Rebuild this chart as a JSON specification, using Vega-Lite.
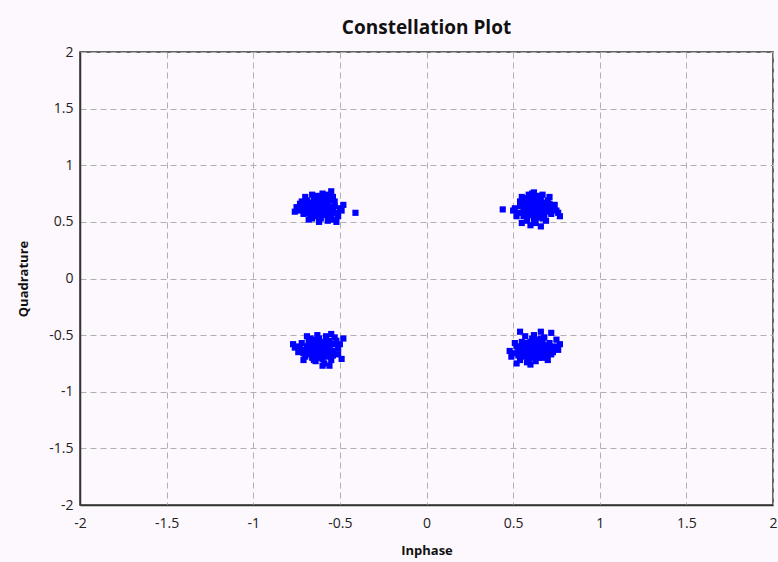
{
  "$schema": "https://vega.github.io/schema/vega-lite/v6.json",
  "autosize": "none",
  "width": 693,
  "height": 453,
  "padding": {"left": 80, "top": 52, "right": 5, "bottom": 57},
  "background": "#fdf8fd",
  "title": {"text": "Constellation Plot", "fontSize": 19, "font": "Open Sans", "fontWeight": "bold", "color": "#111111", "offset": 7, "anchor": "middle"},
  "config": {
    "view": {"stroke": "#333333", "strokeWidth": 1.5, "fill": "#fdf8fd"},
    "axis": {
      "labelFont": "Open Sans", "labelFontSize": 14, "labelColor": "#222222",
      "titleFont": "Open Sans", "titleFontSize": 13, "titleFontWeight": "bold", "titleColor": "#111111",
      "ticks": false, "domainColor": "#333333", "domainWidth": 1.5,
      "gridColor": "#b0b0b0", "gridDash": [6, 4], "gridWidth": 1
    }
  },
  "data": {"values": [
    {"x": -0.62, "y": 0.63}, {"x": -0.60, "y": 0.65}, {"x": -0.64, "y": 0.61}, {"x": -0.58, "y": 0.62}, {"x": -0.66, "y": 0.64}, {"x": -0.61, "y": 0.68}, {"x": -0.63, "y": 0.58}, {"x": -0.57, "y": 0.66}, {"x": -0.68, "y": 0.60}, {"x": -0.55, "y": 0.60},
    {"x": -0.70, "y": 0.66}, {"x": -0.65, "y": 0.70}, {"x": -0.59, "y": 0.71}, {"x": -0.53, "y": 0.64}, {"x": -0.67, "y": 0.56}, {"x": -0.60, "y": 0.56}, {"x": -0.72, "y": 0.62}, {"x": -0.56, "y": 0.69}, {"x": -0.63, "y": 0.73}, {"x": -0.69, "y": 0.69},
    {"x": -0.52, "y": 0.58}, {"x": -0.74, "y": 0.60}, {"x": -0.61, "y": 0.53}, {"x": -0.66, "y": 0.53}, {"x": -0.55, "y": 0.55}, {"x": -0.58, "y": 0.74}, {"x": -0.54, "y": 0.72}, {"x": -0.71, "y": 0.57}, {"x": -0.75, "y": 0.63}, {"x": -0.50, "y": 0.62},
    {"x": -0.64, "y": 0.66}, {"x": -0.59, "y": 0.59}, {"x": -0.62, "y": 0.70}, {"x": -0.57, "y": 0.56}, {"x": -0.67, "y": 0.67}, {"x": -0.65, "y": 0.58}, {"x": -0.61, "y": 0.61}, {"x": -0.63, "y": 0.64}, {"x": -0.60, "y": 0.62}, {"x": -0.56, "y": 0.63},
    {"x": -0.73, "y": 0.66}, {"x": -0.69, "y": 0.63}, {"x": -0.53, "y": 0.68}, {"x": -0.51, "y": 0.55}, {"x": -0.68, "y": 0.52}, {"x": -0.57, "y": 0.51}, {"x": -0.62, "y": 0.50}, {"x": -0.49, "y": 0.60}, {"x": -0.52, "y": 0.50}, {"x": -0.55, "y": 0.77},
    {"x": -0.66, "y": 0.74}, {"x": -0.70, "y": 0.72}, {"x": -0.76, "y": 0.59}, {"x": -0.41, "y": 0.58}, {"x": -0.58, "y": 0.68}, {"x": -0.64, "y": 0.55}, {"x": -0.71, "y": 0.64}, {"x": -0.60, "y": 0.75}, {"x": -0.54, "y": 0.52}, {"x": -0.48, "y": 0.65},
    {"x": -0.67, "y": 0.62}, {"x": -0.59, "y": 0.66}, {"x": -0.62, "y": 0.57}, {"x": -0.56, "y": 0.59}, {"x": -0.65, "y": 0.68}, {"x": -0.69, "y": 0.58}, {"x": -0.57, "y": 0.72}, {"x": -0.61, "y": 0.65}, {"x": -0.54, "y": 0.62}, {"x": -0.72, "y": 0.68},
    {"x": 0.63, "y": 0.62}, {"x": 0.61, "y": 0.65}, {"x": 0.65, "y": 0.60}, {"x": 0.59, "y": 0.63}, {"x": 0.67, "y": 0.64}, {"x": 0.62, "y": 0.68}, {"x": 0.64, "y": 0.57}, {"x": 0.58, "y": 0.66}, {"x": 0.69, "y": 0.60}, {"x": 0.56, "y": 0.60},
    {"x": 0.71, "y": 0.66}, {"x": 0.66, "y": 0.70}, {"x": 0.60, "y": 0.71}, {"x": 0.54, "y": 0.64}, {"x": 0.68, "y": 0.56}, {"x": 0.61, "y": 0.56}, {"x": 0.73, "y": 0.62}, {"x": 0.57, "y": 0.69}, {"x": 0.64, "y": 0.73}, {"x": 0.70, "y": 0.69},
    {"x": 0.53, "y": 0.58}, {"x": 0.75, "y": 0.60}, {"x": 0.62, "y": 0.52}, {"x": 0.67, "y": 0.53}, {"x": 0.56, "y": 0.55}, {"x": 0.59, "y": 0.74}, {"x": 0.55, "y": 0.72}, {"x": 0.72, "y": 0.57}, {"x": 0.76, "y": 0.58}, {"x": 0.51, "y": 0.62},
    {"x": 0.65, "y": 0.66}, {"x": 0.60, "y": 0.59}, {"x": 0.63, "y": 0.70}, {"x": 0.58, "y": 0.56}, {"x": 0.68, "y": 0.67}, {"x": 0.66, "y": 0.58}, {"x": 0.62, "y": 0.61}, {"x": 0.64, "y": 0.64}, {"x": 0.61, "y": 0.62}, {"x": 0.57, "y": 0.63},
    {"x": 0.74, "y": 0.65}, {"x": 0.70, "y": 0.63}, {"x": 0.54, "y": 0.68}, {"x": 0.52, "y": 0.55}, {"x": 0.69, "y": 0.51}, {"x": 0.58, "y": 0.51}, {"x": 0.63, "y": 0.49}, {"x": 0.50, "y": 0.60}, {"x": 0.55, "y": 0.49}, {"x": 0.62, "y": 0.76},
    {"x": 0.67, "y": 0.74}, {"x": 0.71, "y": 0.72}, {"x": 0.77, "y": 0.55}, {"x": 0.44, "y": 0.61}, {"x": 0.59, "y": 0.68}, {"x": 0.65, "y": 0.54}, {"x": 0.72, "y": 0.64}, {"x": 0.61, "y": 0.75}, {"x": 0.60, "y": 0.47}, {"x": 0.66, "y": 0.46},
    {"x": 0.60, "y": 0.67}, {"x": 0.66, "y": 0.62}, {"x": 0.57, "y": 0.59}, {"x": 0.69, "y": 0.66}, {"x": 0.62, "y": 0.55}, {"x": 0.71, "y": 0.59}, {"x": 0.55, "y": 0.66}, {"x": 0.63, "y": 0.66}, {"x": 0.67, "y": 0.57}, {"x": 0.58, "y": 0.71},
    {"x": -0.63, "y": -0.64}, {"x": -0.61, "y": -0.61}, {"x": -0.65, "y": -0.66}, {"x": -0.59, "y": -0.63}, {"x": -0.67, "y": -0.62}, {"x": -0.62, "y": -0.68}, {"x": -0.64, "y": -0.58}, {"x": -0.58, "y": -0.66}, {"x": -0.69, "y": -0.60}, {"x": -0.56, "y": -0.60},
    {"x": -0.71, "y": -0.66}, {"x": -0.66, "y": -0.70}, {"x": -0.60, "y": -0.71}, {"x": -0.54, "y": -0.64}, {"x": -0.68, "y": -0.56}, {"x": -0.61, "y": -0.56}, {"x": -0.73, "y": -0.62}, {"x": -0.57, "y": -0.69}, {"x": -0.64, "y": -0.73}, {"x": -0.70, "y": -0.69},
    {"x": -0.53, "y": -0.58}, {"x": -0.75, "y": -0.60}, {"x": -0.62, "y": -0.53}, {"x": -0.67, "y": -0.53}, {"x": -0.56, "y": -0.55}, {"x": -0.59, "y": -0.75}, {"x": -0.55, "y": -0.72}, {"x": -0.72, "y": -0.57}, {"x": -0.76, "y": -0.61}, {"x": -0.51, "y": -0.62},
    {"x": -0.65, "y": -0.62}, {"x": -0.60, "y": -0.59}, {"x": -0.63, "y": -0.70}, {"x": -0.58, "y": -0.56}, {"x": -0.68, "y": -0.67}, {"x": -0.66, "y": -0.58}, {"x": -0.62, "y": -0.61}, {"x": -0.64, "y": -0.64}, {"x": -0.61, "y": -0.66}, {"x": -0.57, "y": -0.63},
    {"x": -0.74, "y": -0.65}, {"x": -0.70, "y": -0.63}, {"x": -0.54, "y": -0.68}, {"x": -0.52, "y": -0.55}, {"x": -0.69, "y": -0.51}, {"x": -0.58, "y": -0.51}, {"x": -0.63, "y": -0.50}, {"x": -0.50, "y": -0.58}, {"x": -0.55, "y": -0.49}, {"x": -0.56, "y": -0.77},
    {"x": -0.53, "y": -0.52}, {"x": -0.71, "y": -0.72}, {"x": -0.77, "y": -0.58}, {"x": -0.48, "y": -0.53}, {"x": -0.59, "y": -0.68}, {"x": -0.65, "y": -0.54}, {"x": -0.72, "y": -0.64}, {"x": -0.60, "y": -0.77}, {"x": -0.51, "y": -0.67}, {"x": -0.49, "y": -0.71},
    {"x": -0.66, "y": -0.64}, {"x": -0.60, "y": -0.65}, {"x": -0.62, "y": -0.57}, {"x": -0.56, "y": -0.66}, {"x": -0.68, "y": -0.59}, {"x": -0.63, "y": -0.67}, {"x": -0.58, "y": -0.61}, {"x": -0.70, "y": -0.66}, {"x": -0.65, "y": -0.72}, {"x": -0.55, "y": -0.58},
    {"x": 0.62, "y": -0.64}, {"x": 0.60, "y": -0.61}, {"x": 0.64, "y": -0.66}, {"x": 0.58, "y": -0.63}, {"x": 0.66, "y": -0.62}, {"x": 0.61, "y": -0.68}, {"x": 0.63, "y": -0.58}, {"x": 0.57, "y": -0.66}, {"x": 0.68, "y": -0.60}, {"x": 0.55, "y": -0.60},
    {"x": 0.70, "y": -0.66}, {"x": 0.65, "y": -0.70}, {"x": 0.59, "y": -0.71}, {"x": 0.53, "y": -0.64}, {"x": 0.67, "y": -0.56}, {"x": 0.60, "y": -0.56}, {"x": 0.72, "y": -0.62}, {"x": 0.56, "y": -0.69}, {"x": 0.63, "y": -0.73}, {"x": 0.69, "y": -0.69},
    {"x": 0.52, "y": -0.60}, {"x": 0.74, "y": -0.60}, {"x": 0.61, "y": -0.53}, {"x": 0.66, "y": -0.53}, {"x": 0.55, "y": -0.56}, {"x": 0.58, "y": -0.74}, {"x": 0.54, "y": -0.72}, {"x": 0.71, "y": -0.57}, {"x": 0.76, "y": -0.63}, {"x": 0.50, "y": -0.66},
    {"x": 0.64, "y": -0.62}, {"x": 0.59, "y": -0.59}, {"x": 0.62, "y": -0.70}, {"x": 0.57, "y": -0.57}, {"x": 0.67, "y": -0.67}, {"x": 0.65, "y": -0.58}, {"x": 0.61, "y": -0.61}, {"x": 0.63, "y": -0.64}, {"x": 0.60, "y": -0.66}, {"x": 0.56, "y": -0.63},
    {"x": 0.73, "y": -0.65}, {"x": 0.69, "y": -0.63}, {"x": 0.53, "y": -0.68}, {"x": 0.51, "y": -0.57}, {"x": 0.68, "y": -0.52}, {"x": 0.57, "y": -0.51}, {"x": 0.62, "y": -0.50}, {"x": 0.48, "y": -0.64}, {"x": 0.54, "y": -0.47}, {"x": 0.66, "y": -0.47},
    {"x": 0.70, "y": -0.72}, {"x": 0.77, "y": -0.58}, {"x": 0.49, "y": -0.69}, {"x": 0.52, "y": -0.75}, {"x": 0.58, "y": -0.68}, {"x": 0.64, "y": -0.54}, {"x": 0.71, "y": -0.64}, {"x": 0.60, "y": -0.76}, {"x": 0.75, "y": -0.54}, {"x": 0.72, "y": -0.48},
    {"x": 0.65, "y": -0.65}, {"x": 0.59, "y": -0.65}, {"x": 0.62, "y": -0.58}, {"x": 0.67, "y": -0.70}, {"x": 0.56, "y": -0.66}, {"x": 0.69, "y": -0.59}, {"x": 0.63, "y": -0.68}, {"x": 0.58, "y": -0.60}, {"x": 0.72, "y": -0.67}, {"x": 0.54, "y": -0.62}
  ]},
  "mark": {"type": "point", "shape": "square", "filled": true, "color": "#0000ff", "opacity": 1, "size": 38},
  "encoding": {
    "x": {"field": "x", "type": "quantitative", "title": "Inphase",
      "scale": {"domain": [-2, 2], "nice": false, "zero": false},
      "axis": {"values": [-2, -1.5, -1, -0.5, 0, 0.5, 1, 1.5, 2], "labelExpr": "datum.value + ''", "labelPadding": 11, "titlePadding": 14, "labelFlush": false, "labelOverlap": false}},
    "y": {"field": "y", "type": "quantitative", "title": "Quadrature",
      "scale": {"domain": [-2, 2], "nice": false, "zero": false},
      "axis": {"values": [-2, -1.5, -1, -0.5, 0, 0.5, 1, 1.5, 2], "labelExpr": "datum.value + ''", "labelPadding": 7, "titlePadding": 18, "labelFlush": false, "labelOverlap": false}}
  }
}
